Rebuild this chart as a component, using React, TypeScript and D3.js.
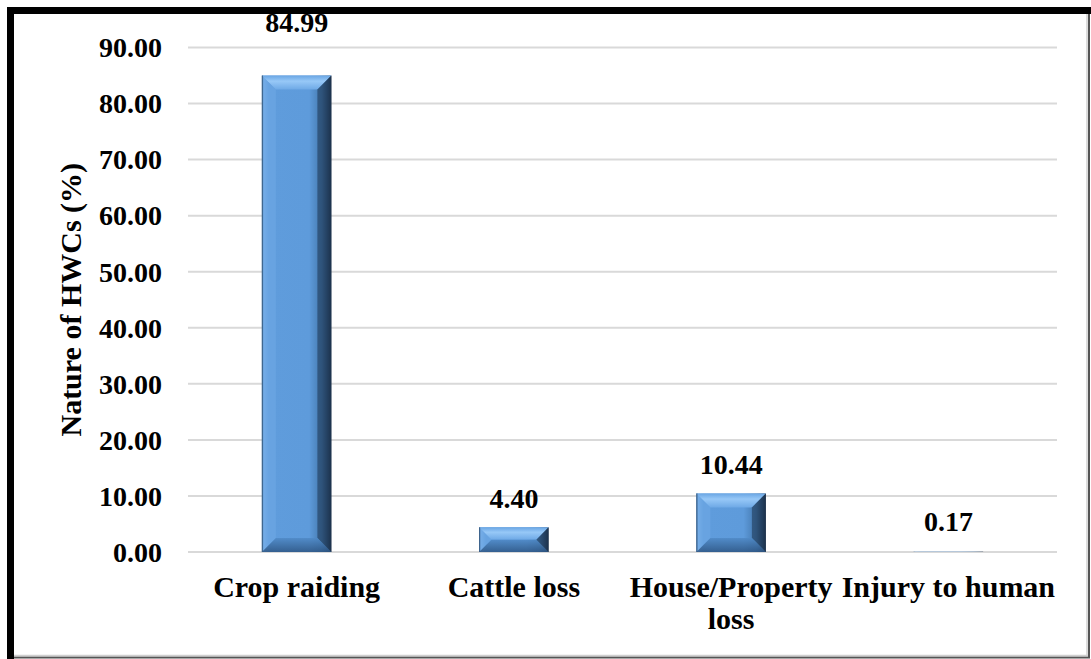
import React from "react";
import * as d3 from "d3";

const categories = ["Crop raiding", "Cattle loss", "House/Property loss", "Injury to human"];
const categoryLines = [["Crop raiding"], ["Cattle loss"], ["House/Property", "loss"], ["Injury to human"]];
const values = [84.99, 4.4, 10.44, 0.17];
const yTicks = [0, 10, 20, 30, 40, 50, 60, 70, 80, 90];
const yTitle = "Nature of HWCs (%)";

const W = 1091;
const H = 659;
const plot = { left: 188, right: 1057, top: 47.5, bottom: 552 };
const font = "'Liberation Serif', 'Times New Roman', serif";
// vertical gap (px) between bar top and label baseline
const labelGap = [44, 19, 19, 20];

export default function App() {
  const x = d3
    .scaleBand<string>()
    .domain(categories)
    .range([plot.left, plot.right])
    .paddingInner(0.68)
    .paddingOuter(0.34);
  const y = d3.scaleLinear().domain([0, 90]).range([plot.bottom, plot.top]);
  const bw = x.bandwidth();

  return (
    <svg
      width={W}
      height={H}
      style={{ position: "absolute", left: 0, top: 0, background: "#fff" }}
      fontFamily={font}
    >
      <defs>
        <linearGradient id="barH" x1="0" x2="1" y1="0" y2="0">
          <stop offset="0" stopColor="#3d6a96" />
          <stop offset="0.03" stopColor="#79afe8" />
          <stop offset="0.1" stopColor="#5f9cdc" />
          <stop offset="0.68" stopColor="#5e9bdb" />
          <stop offset="0.86" stopColor="#4479af" />
          <stop offset="0.95" stopColor="#2a4a6e" />
          <stop offset="1" stopColor="#1b2d44" />
        </linearGradient>
        <linearGradient id="bevTop" x1="0" x2="0" y1="0" y2="1">
          <stop offset="0" stopColor="#6aa6e4" />
          <stop offset="0.4" stopColor="#97c8f7" />
          <stop offset="1" stopColor="#6ea9e6" />
        </linearGradient>
        <linearGradient id="bevBot" x1="0" x2="0" y1="0" y2="1">
          <stop offset="0" stopColor="#4f89c6" />
          <stop offset="1" stopColor="#2d5583" />
        </linearGradient>
      </defs>

      {/* gridlines */}
      {yTicks.map((t) => (
        <line
          key={t}
          x1={plot.left}
          x2={plot.right}
          y1={y(t)}
          y2={y(t)}
          stroke="#d9d9d9"
          strokeWidth={2}
        />
      ))}

      {/* tick labels */}
      {yTicks.map((t) => (
        <text
          key={"l" + t}
          x={162}
          y={y(t)}
          dy="0.35em"
          textAnchor="end"
          fontSize={28}
          fontWeight="bold"
          fill="#000"
        >
          {t.toFixed(2)}
        </text>
      ))}

      {/* bars */}
      {values.map((v, i) => {
        const x0 = x(categories[i])!;
        const y0 = y(v);
        const h = plot.bottom - y0;
        const b = Math.min(14, h / 2, bw / 2);
        const x1 = x0 + bw;
        const y1 = plot.bottom;
        return (
          <g key={i}>
            <rect x={x0} y={y0} width={bw} height={h} fill="url(#barH)" opacity={h > 2 ? 1 : 0.3} />
            {h > 2 && (
              <>
                <polygon
                  points={`${x0},${y0} ${x1},${y0} ${x1 - b},${y0 + b} ${x0 + b},${y0 + b}`}
                  fill="url(#bevTop)"
                />
                <polygon
                  points={`${x0},${y0} ${x0 + b},${y0 + b} ${x0 + b},${y1 - b} ${x0},${y1}`}
                  fill="#6fa9e6"
                  opacity={0.55}
                />
                <polygon
                  points={`${x1},${y0} ${x1 - b},${y0 + b} ${x1 - b},${y1 - b} ${x1},${y1}`}
                  fill="#1e3550"
                  opacity={0.55}
                />
                <polygon
                  points={`${x0},${y1} ${x1},${y1} ${x1 - b},${y1 - b} ${x0 + b},${y1 - b}`}
                  fill="url(#bevBot)"
                  opacity={0.85}
                />
                <line x1={x0 + 0.5} x2={x0 + 0.5} y1={y0} y2={y1} stroke="#3a5f86" strokeWidth={1} />
              </>
            )}
          </g>
        );
      })}

      {/* value labels */}
      {values.map((v, i) => {
        const cx = x(categories[i])! + bw / 2;
        return (
          <text
            key={"v" + i}
            x={cx}
            y={y(v) - labelGap[i]}
            textAnchor="middle"
            fontSize={28}
            fontWeight="bold"
            fill="#000"
          >
            {v.toFixed(2)}
          </text>
        );
      })}

      {/* category labels */}
      {categoryLines.map((lines, i) => (
        <text
          key={"c" + i}
          x={x(categories[i])! + bw / 2}
          y={597}
          textAnchor="middle"
          fontSize={30}
          fontWeight="bold"
          fill="#000"
        >
          {lines.map((ln, j) => (
            <tspan key={j} x={x(categories[i])! + bw / 2} dy={j === 0 ? 0 : 32}>
              {ln}
            </tspan>
          ))}
        </text>
      ))}

      {/* y axis title */}
      <text
        transform={`translate(81, ${(plot.top + plot.bottom) / 2}) rotate(-90)`}
        textAnchor="middle"
        fontSize={30}
        fontWeight="bold"
        fill="#000"
      >
        {yTitle}
      </text>

      {/* frame */}
      <path d={`M10.5,${H} V10.5 H${W}`} fill="none" stroke="#000" strokeWidth={7} />
      <line x1={1089} x2={1089} y1={14} y2={658} stroke="#555" strokeWidth={2} />
      <line x1={1087} x2={1087} y1={14} y2={656} stroke="#d0d0d0" strokeWidth={1.5} />
      <line x1={14} x2={1090} y1={657.5} y2={657.5} stroke="#555" strokeWidth={2} />
      <line x1={14} x2={1088} y1={655.5} y2={655.5} stroke="#d0d0d0" strokeWidth={1.5} />
    </svg>
  );
}
